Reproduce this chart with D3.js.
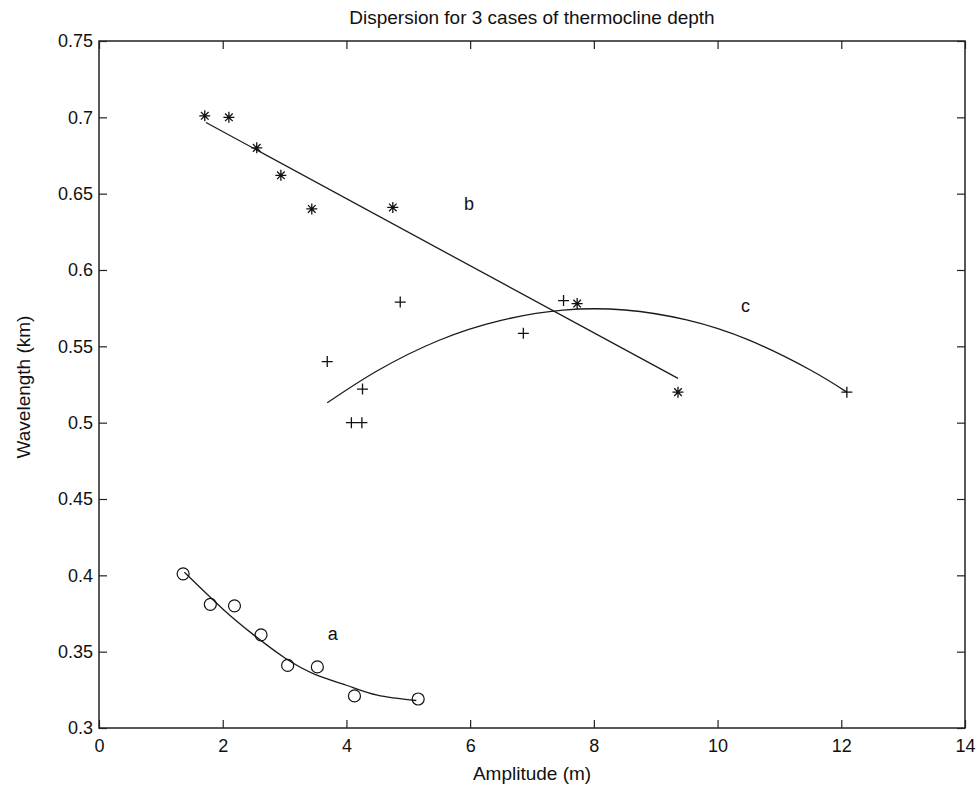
<!DOCTYPE html>
<html>
<head>
<meta charset="utf-8">
<script src="https://cdn.jsdelivr.net/npm/d3@7"></script>
<style>
  body { margin: 0; background: #fff; }
  svg { font-family: "Liberation Sans", Arial, Helvetica, sans-serif; }
</style>
</head>
<body>
<svg id="chart"></svg>
<script>
// case a (circles)
const aAmp = [1.36, 1.80, 2.19, 2.62, 3.05, 3.53, 4.13, 5.16];
const aWave = [0.401, 0.381, 0.380, 0.361, 0.341, 0.340, 0.321, 0.319];
// case b (asterisks)
const bAmp = [1.71, 2.10, 2.55, 2.94, 3.44, 4.75, 7.73, 9.36];
const bWave = [0.701, 0.700, 0.680, 0.662, 0.640, 0.641, 0.578, 0.520];
// case c (plus)
const cAmp = [3.69, 4.08, 4.25, 4.26, 4.87, 6.86, 7.51, 12.09];
const cWave = [0.540, 0.500, 0.500, 0.522, 0.579, 0.5585, 0.580, 0.520];

// fitted curves
const aFitAmp = [1.38, 2.0, 2.5, 3.0, 3.5, 4.0, 4.5, 5.13];
const aFitWave = [0.402, 0.378, 0.361, 0.346, 0.335, 0.328, 0.3215, 0.318];
const bFitAmp = [1.73, 9.36];
const bFitWave = [0.6966, 0.529];
const cFitAmp = [3.69, 4.5, 5.5, 6.5, 7.5, 8.5, 9.5, 10.5, 11.5, 12.09];
const cFitWave = [0.513, 0.534, 0.554, 0.567, 0.5737, 0.5738, 0.5673, 0.5542, 0.5345, 0.520];

const caseLabels = ["a", "b", "c"];
const labelAmp = [3.78, 5.98, 10.45];
const labelWave = [0.3618, 0.643, 0.5763];

const xTicks = [0, 2, 4, 6, 8, 10, 12, 14];
const yTicks = [0.3, 0.35, 0.4, 0.45, 0.5, 0.55, 0.6, 0.65, 0.7, 0.75];

const W = 979, H = 794;
const margin = { top: 41, right: 14, bottom: 66, left: 99 },
  width = W - margin.left - margin.right,
  height = H - margin.top - margin.bottom;

const svg = d3.select("#chart").attr("width", W).attr("height", H);
const g = svg.append("g").attr("transform", "translate(" + margin.left + "," + margin.top + ")");

const x = d3.scaleLinear().domain([0, 14]).range([0, width]);
const y = d3.scaleLinear().domain([0.3, 0.75]).range([height, 0]);

const fmt = d => String(+d.toFixed(2));

// axes with inward ticks on all four sides
function styleAxis(sel) {
  sel.select(".domain").remove();
  sel.selectAll(".tick line").attr("stroke", "#222").attr("stroke-width", 1.2);
  sel.selectAll("text").attr("font-size", 18).attr("fill", "#111");
}
g.append("g").attr("transform", "translate(0," + height + ")")
  .call(d3.axisBottom(x).tickValues(xTicks).tickFormat(fmt).tickSizeInner(-8).tickSizeOuter(0).tickPadding(11))
  .call(styleAxis);
g.append("g")
  .call(d3.axisLeft(y).tickValues(yTicks).tickFormat(fmt).tickSizeInner(-8).tickSizeOuter(0).tickPadding(6))
  .call(styleAxis);
g.append("g")
  .call(d3.axisTop(x).tickValues(xTicks).tickFormat("").tickSizeInner(-8).tickSizeOuter(0))
  .call(styleAxis);
g.append("g").attr("transform", "translate(" + width + ",0)")
  .call(d3.axisRight(y).tickValues(yTicks).tickFormat("").tickSizeInner(-8).tickSizeOuter(0))
  .call(styleAxis);

g.append("rect")
  .attr("width", width).attr("height", height)
  .attr("fill", "none").attr("stroke", "#222").attr("stroke-width", 1.5);

// fitted lines
const line = d3.line().x(d => x(d[0])).y(d => y(d[1])).curve(d3.curveNatural);
[[aFitAmp, aFitWave], [bFitAmp, bFitWave], [cFitAmp, cFitWave]].forEach(([xs, ys]) => {
  g.append("path")
    .datum(d3.zip(xs, ys))
    .attr("d", line)
    .attr("fill", "none")
    .attr("stroke", "#1a1a1a")
    .attr("stroke-width", 1.3);
});

// markers
g.append("g").selectAll("circle")
  .data(d3.zip(aAmp, aWave))
  .join("circle")
  .attr("cx", d => x(d[0]))
  .attr("cy", d => y(d[1]))
  .attr("r", 6)
  .attr("fill", "none")
  .attr("stroke", "#111")
  .attr("stroke-width", 1.2);

const starPath = "M-5.5,0H5.5M0,-5.5V5.5M-3.8,-3.8L3.8,3.8M-3.8,3.8L3.8,-3.8";
g.append("g").selectAll("path")
  .data(d3.zip(bAmp, bWave))
  .join("path")
  .attr("transform", d => "translate(" + x(d[0]) + "," + y(d[1]) + ")")
  .attr("d", starPath)
  .attr("stroke", "#111")
  .attr("stroke-width", 1.3);

const plusPath = "M-5.5,0H5.5M0,-5.5V5.5";
g.append("g").selectAll("path")
  .data(d3.zip(cAmp, cWave))
  .join("path")
  .attr("transform", d => "translate(" + x(d[0]) + "," + y(d[1]) + ")")
  .attr("d", plusPath)
  .attr("stroke", "#111")
  .attr("stroke-width", 1.3);

// case labels
g.append("g").selectAll("text")
  .data(caseLabels)
  .join("text")
  .attr("x", (d, i) => x(labelAmp[i]))
  .attr("y", (d, i) => y(labelWave[i]))
  .attr("text-anchor", "middle")
  .attr("dominant-baseline", "central")
  .attr("font-size", 18)
  .attr("fill", "#111")
  .text(d => d);

// titles
svg.append("text")
  .attr("x", margin.left + width / 2).attr("y", 24)
  .attr("text-anchor", "middle")
  .attr("font-size", 19)
  .attr("fill", "#111")
  .text("Dispersion for 3 cases of thermocline depth");

svg.append("text")
  .attr("x", margin.left + width / 2).attr("y", 780)
  .attr("text-anchor", "middle")
  .attr("font-size", 19)
  .attr("fill", "#111")
  .text("Amplitude (m)");

svg.append("text")
  .attr("transform", "translate(30,387) rotate(-90)")
  .attr("text-anchor", "middle")
  .attr("font-size", 19)
  .attr("fill", "#111")
  .text("Wavelength (km)");
</script>
</body>
</html>
